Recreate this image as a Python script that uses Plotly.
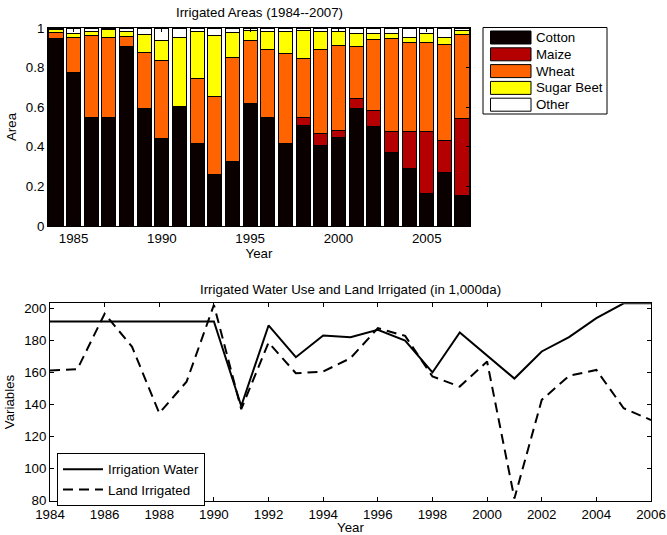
import plotly.graph_objects as go

years_area = list(range(1984, 2008))
# cumulative tops, converted to shares
cotton_top = [0.945, 0.775, 0.548, 0.548, 0.908, 0.593, 0.442, 0.603, 0.417, 0.262, 0.328, 0.618,
              0.550, 0.417, 0.508, 0.408, 0.447, 0.595, 0.501, 0.371, 0.292, 0.165, 0.272, 0.153]
maize_top = [0.945, 0.775, 0.548, 0.548, 0.908, 0.593, 0.442, 0.603, 0.417, 0.262, 0.328, 0.618,
             0.550, 0.417, 0.546, 0.467, 0.482, 0.642, 0.583, 0.476, 0.476, 0.476, 0.434, 0.545]
wheat_top = [0.975, 0.953, 0.963, 0.951, 0.955, 0.874, 0.837, 0.603, 0.745, 0.655, 0.850, 0.938,
             0.891, 0.871, 0.847, 0.892, 0.911, 0.908, 0.943, 0.945, 0.929, 0.929, 0.918, 0.968]
sugar_top = [0.993, 0.973, 0.981, 0.990, 0.980, 0.966, 0.936, 0.953, 0.982, 0.963, 0.975, 0.987,
             0.983, 0.980, 0.985, 0.980, 0.980, 0.971, 0.970, 0.973, 0.950, 0.970, 0.950, 0.987]

cotton = cotton_top
maize = [round(m - c, 3) for m, c in zip(maize_top, cotton_top)]
wheat = [round(w - m, 3) for w, m in zip(wheat_top, maize_top)]
sugar = [round(s - w, 3) for s, w in zip(sugar_top, wheat_top)]
other = [round(1 - s, 3) for s in sugar_top]

years_water = list(range(1984, 2007))
irrigation_water = [191.7, 191.7, 191.7, 191.7, 191.7, 191.7, 191.7, 139.0, 189.2, 169.4, 182.9, 181.9,
                    186.5, 179.8, 159.9, 184.8, 170.5, 156.1, 173.0, 181.9, 193.8, 203.0, 203.0]
land_irrigated = [161.1, 161.9, 196.5, 176.0, 134.5, 154.2, 202.0, 137.0, 178.6, 159.4, 160.5, 168.8,
                  187.5, 182.7, 157.4, 151.1, 166.7, 81.4, 142.8, 157.8, 161.5, 137.6, 130.3]

series = [("Cotton", cotton, "#0b0000"), ("Maize", maize, "#b40000"), ("Wheat", wheat, "#ff6400"),
          ("Sugar Beet", sugar, "#ffff00"), ("Other", other, "#ffffff")]

FONT = "Liberation Sans, Arial, Helvetica, sans-serif"
FS = 13.3
W, H = 667, 535

fig = go.Figure()
for name, vals, col in series:
    fig.add_trace(go.Bar(x=years_area, y=vals, name=name, marker=dict(color=col, line=dict(color="black", width=1)),
                         width=0.8, showlegend=False, xaxis="x", yaxis="y"))

fig.add_trace(go.Scatter(x=years_water, y=irrigation_water, mode="lines", name="Irrigation Water",
                         line=dict(color="black", width=2), xaxis="x2", yaxis="y2"))
fig.add_trace(go.Scatter(x=years_water, y=land_irrigated, mode="lines", name="Land Irrigated",
                         line=dict(color="black", width=2, dash="10px,6px"), xaxis="x2", yaxis="y2"))

def px_x(p):
    return p / W

def px_y(p):
    return 1 - p / H

axis_common = dict(showline=True, linecolor="black", linewidth=1, mirror="ticks", ticks="inside",
                   ticklen=4, tickcolor="black", showgrid=False, zeroline=False, automargin=False,
                   tickfont=dict(family=FONT, size=FS, color="black"))

fig.update_layout(
    width=W, height=H, margin=dict(l=0, r=0, t=0, b=0, autoexpand=False),
    paper_bgcolor="white", plot_bgcolor="white", barmode="stack", bargap=0.2,
    font=dict(family=FONT, color="black"),
    xaxis=dict(domain=[px_x(48), px_x(470)], range=[1983.55, 2007.45], tickvals=[1985, 1990, 1995, 2000, 2005],
               anchor="y", title=dict(text="Year", font=dict(size=FS, family=FONT), standoff=0), **axis_common),
    yaxis=dict(domain=[px_y(226), px_y(28)], range=[0, 1], tickvals=[0, 0.2, 0.4, 0.6, 0.8, 1],
               ticktext=["0", "0.2", "0.4", "0.6", "0.8", "1"], anchor="x",
               title=dict(text="Area", font=dict(size=FS, family=FONT), standoff=6), **axis_common),
    xaxis2=dict(domain=[px_x(50), px_x(651)], range=[1984, 2006], tickvals=list(range(1984, 2007, 2)),
                anchor="y2", ticklabelstandoff=1,
                title=dict(text="Year", font=dict(size=FS, family=FONT), standoff=0), **axis_common),
    yaxis2=dict(domain=[px_y(500.7), px_y(303.3)], range=[80, 203], tickvals=list(range(80, 201, 20)),
                anchor="x2", title=dict(text="Variables", font=dict(size=FS, family=FONT), standoff=6), **axis_common),
    legend=dict(x=px_x(57), y=px_y(453), xanchor="left", yanchor="top", bgcolor="white",
                bordercolor="black", borderwidth=1, font=dict(family=FONT, size=FS, color="black"),
                tracegroupgap=0, itemwidth=40, traceorder="normal"),
    annotations=[
        dict(text="Irrigated Areas (1984--2007)", x=(px_x(48) + px_x(470)) / 2, y=px_y(13),
             xref="paper", yref="paper", showarrow=False, yanchor="middle", font=dict(family=FONT, size=FS)),
        dict(text="Irrigated Water Use and Land Irrigated (in 1,000da)", x=(px_x(50) + px_x(651)) / 2,
             y=px_y(289), xref="paper", yref="paper", showarrow=False, yanchor="middle",
             font=dict(family=FONT, size=FS)),
    ],
)

# custom legend for the stacked areas
shapes = [dict(type="rect", xref="paper", yref="paper", x0=px_x(483), x1=px_x(607), y0=px_y(114), y1=px_y(27.5),
               line=dict(color="black", width=1), fillcolor="white", layer="above")]
for i, (name, vals, col) in enumerate(series):
    yc = 37.5 + i * 16.8
    shapes.append(dict(type="rect", xref="paper", yref="paper", x0=px_x(490.5), x1=px_x(531), y0=px_y(yc + 6.5),
                       y1=px_y(yc - 6.5), line=dict(color="black", width=1), fillcolor=col, layer="above"))
    fig.add_annotation(text=name, x=px_x(534), y=px_y(yc), xref="paper", yref="paper", showarrow=False,
                       xanchor="left", yanchor="middle", font=dict(family=FONT, size=FS, color="black"))
fig.update_layout(shapes=shapes)

fig.write_html("out.html", config={"displayModeBar": False},
               post_script="document.body.style.margin='0';document.body.style.overflow='hidden';")
